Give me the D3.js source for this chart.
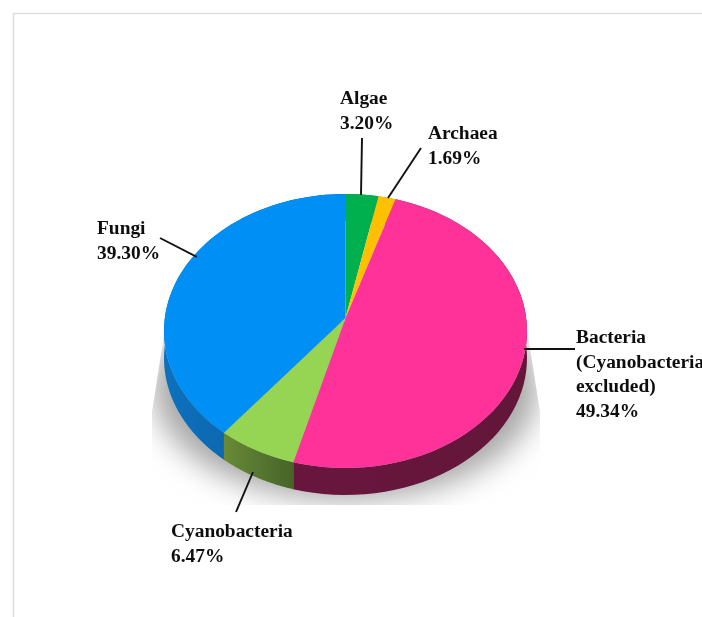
<!DOCTYPE html>
<html><head><meta charset="utf-8">
<script src="https://cdn.jsdelivr.net/npm/d3@7"></script>
<style>html,body{margin:0;padding:0;background:#fff}svg{display:block}</style>
</head><body>
<svg id="c" width="702" height="617"></svg>
<script>
const categories = ["Algae","Archaea","Bacteria","Cyanobacteria","Fungi"];
const values = [3.20,1.69,49.34,6.47,39.30];
const valueLabels = ["3.20%","1.69%","49.34%","6.47%","39.30%"];
const topColors = ["#00b050","#ffc000","#ff3399","#96d552","#068ff4"];
const sideLeft = ["#00803a","#b98b00","#68143d","#688a36","#0a70bc"];
const sideRight = ["#00803a","#b98b00","#641239","#46642a","#005a9c"];
const labelLines = [
  ["Algae","3.20%"],
  ["Archaea","1.69%"],
  ["Bacteria","(Cyanobacteria","excluded)","49.34%"],
  ["Cyanobacteria","6.47%"],
  ["Fungi","39.30%"]
];
const labelAnchors = [[340,104],[428,139],[576,343],[171,537],[97,234]];
const leaders = [[[362,138],[361,195]],[[421,148],[388,198]],[[575,349],[524,349]],[[253,472],[236,512]],[[160,238],[197,257]]];

const svg = d3.select("#c");
const defs = svg.append("defs");
const cx=345.5, cy=331, rx=181.5, ry=137, k=-0.095, depth=27;
const sx=d3.scaleLinear().domain([-1,1]).range([cx-rx,cx+rx]);
const sy=d3.scaleLinear().domain([-1,1]).range([cy-ry,cy+ry]);
// perspective projection of the unit disc: keeps rim elliptical, moves centre to the apex
function proj(a,r=1){
  const u=r*Math.sin(a), v=-r*Math.cos(a), d=1+k*v;
  return [sx(u*Math.sqrt(1-k*k)/d), sy((v+k)/d)];
}
const pie=d3.pie().sort(null).value(d=>d);
const arcs=pie(values);
const rimPts=(d)=>d3.range(0,61).map(i=>proj(d.startAngle+(d.endAngle-d.startAngle)*i/60));
const line=d3.line();

const blur=defs.append("filter").attr("id","sb").attr("x","-30%").attr("y","-30%").attr("width","160%").attr("height","160%");
blur.append("feGaussianBlur").attr("stdDeviation",15);
const soft=defs.append("filter").attr("id","soft").attr("x","-5%").attr("y","-5%").attr("width","110%").attr("height","110%");
soft.append("feGaussianBlur").attr("stdDeviation",0.45);
const textSoft=defs.append("filter").attr("id","ts").attr("x","-5%").attr("y","-5%").attr("width","110%").attr("height","110%");
textSoft.append("feGaussianBlur").attr("stdDeviation",0.3);

// frame
svg.append("path").attr("d","M13.5,617V13.5H702").attr("fill","none").attr("stroke","#dedede").attr("stroke-width",1.6);

// shadow
defs.append("clipPath").attr("id","sc").append("polygon").attr("points","166,322 152,412 152,505 540,505 540,412 526,322");
svg.append("g").attr("clip-path","url(#sc)")
  .append("ellipse").attr("cx",cx).attr("cy",388).attr("rx",192).attr("ry",112)
  .attr("fill","#a6a6a6").attr("filter","url(#sb)");

const pieG=svg.append("g").attr("filter","url(#soft)");
// sides
arcs.forEach((d,i)=>{
  const pts=rimPts(d);
  const lo=pts.map(p=>[p[0],p[1]+depth]).reverse();
  const xs=pts.map(p=>p[0]);
  const g=defs.append("linearGradient").attr("id","sg"+i).attr("gradientUnits","userSpaceOnUse")
    .attr("x1",d3.min(xs)).attr("x2",d3.max(xs)).attr("y1",0).attr("y2",0);
  g.append("stop").attr("offset",0).attr("stop-color",sideLeft[i]);
  g.append("stop").attr("offset",1).attr("stop-color",sideRight[i]);
  pieG.append("path").attr("d",line(pts.concat(lo))+"Z").attr("fill",`url(#sg${i})`);
});
// top faces
const apex=proj(0,0);
pieG.selectAll("path.top").data(arcs).join("path").attr("class","top")
  .attr("d",d=>line([apex].concat(rimPts(d)))+"Z")
  .attr("fill",(d,i)=>topColors[i]);

// leaders
svg.selectAll("path.ld").data(leaders).join("path").attr("class","ld")
  .attr("d",d=>line(d)).attr("fill","none").attr("stroke","#111").attr("stroke-width",1.9);

// labels
const tg=svg.append("g").attr("filter","url(#ts)").attr("font-family","'Liberation Serif',serif")
  .attr("font-weight","bold").attr("font-size",19.4).attr("fill","#111");
labelLines.forEach((lines,i)=>{
  lines.forEach((t,j)=>{
    tg.append("text").attr("x",labelAnchors[i][0]).attr("y",labelAnchors[i][1]+j*24.5).text(t);
  });
});
</script>
</body></html>
